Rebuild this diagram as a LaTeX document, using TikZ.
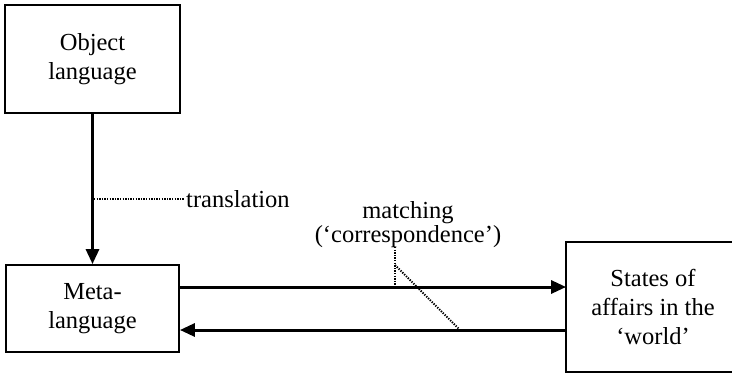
\documentclass[tikz,border=0pt]{standalone}
\usepackage{fontspec}
\setmainfont{Liberation Serif}
\usetikzlibrary{arrows.meta,calc}
\begin{document}
\begin{tikzpicture}[x=1pt,y=-1pt,
  boxline/.style={line width=1.8pt},
  box/.style={draw,boxline,inner sep=0pt,align=center,
    font=\fontsize{24.5}{29}\selectfont},
  arr/.style={line width=3pt,-{Triangle[length=15pt,width=13pt]}},
  dots/.style={line width=2pt,dash pattern=on 1.3pt off 1.3pt},
  lbl/.style={font=\fontsize{24.5}{24}\selectfont,align=center,inner sep=0pt}]
\clip (0,0) rectangle (732,373);
\node[box,minimum width=175pt,minimum height=108pt] (obj) at (92.5,59) {Object\\language};
\node[box,minimum width=173pt,minimum height=87pt] (meta) at (92.5,308.5) {Meta-\\language};
\node[box,draw=none,minimum width=172pt,minimum height=128pt] (states) at (653,307) {States of\\affairs in the\\‘world’};
\draw[boxline] ([xshift=30pt]states.north east) -- (states.north west) -- (states.south west) -- ([xshift=30pt]states.south east);
\draw[arr] (obj.south) -- (meta.north);
\draw[arr] ([yshift=21.5pt]meta.east) -- ([yshift=21.5pt]meta.east -| states.west);
\draw[arr] ([yshift=-21.5pt]meta.east -| states.west) -- ([yshift=-21.5pt]meta.east);
\node[lbl,anchor=west] (trans) at (186,199) {translation};
\coordinate (t1) at (94,199);
\draw[dots] (t1) -- ([xshift=-2pt]trans.west);
\node[lbl] (match) at (408,225) {matching\\(‘correspondence’)};
\coordinate (m1) at (395,247);
\coordinate (m2) at (395,286);
\coordinate (m3) at (395,265);
\coordinate (m4) at (459,329);
\draw[dots] (m1) -- (m2);
\draw[dots] (m3) -- (m4);
\end{tikzpicture}
\end{document}
